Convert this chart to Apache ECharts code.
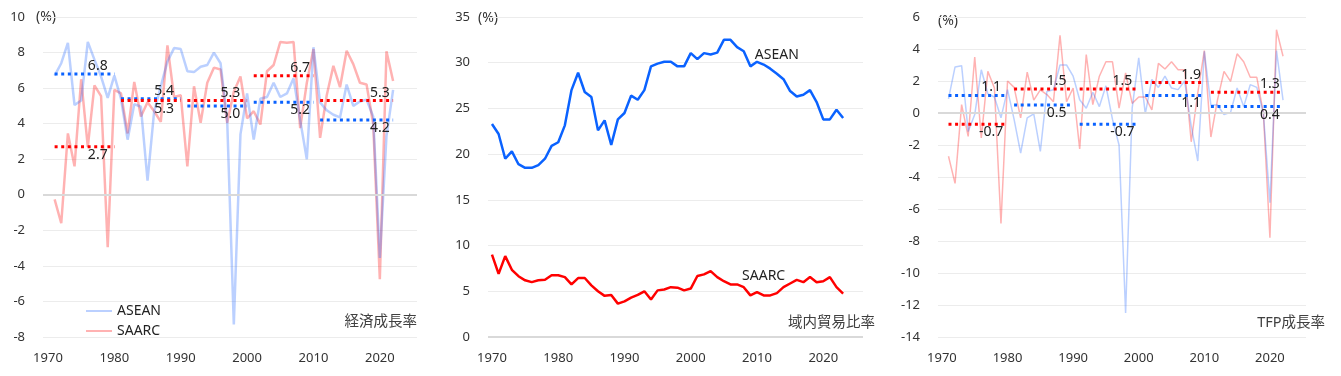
<!DOCTYPE html>
<html>
<head>
<meta charset="utf-8">
<script src="https://cdn.jsdelivr.net/npm/echarts@6/dist/echarts.min.js"></script>
<style>
  html, body { margin: 0; padding: 0; background: #fff; }
  #chart { width: 1341px; height: 376px; }
</style>
</head>
<body>
<div id="chart"></div>
<script>
(function() {
  /** Data */
  var growthStart = 1971;   // 1971-2022
  var tradeStart = 1970;    // 1970-2023

  var growthAsean = [6.7, 7.4, 8.55, 5.05, 5.3, 8.6, 7.6, 6.65, 5.45, 6.7,
    5.4, 3.1, 5.1, 4.95, 0.8, 4.7, 6.1, 7.5, 8.25, 8.2,
    6.95, 6.9, 7.2, 7.3, 8.0, 7.4, 4.2, -7.3, 3.4, 5.7,
    3.1, 5.4, 5.5, 6.3, 5.5, 5.7, 6.55, 4.2, 2.0, 8.3,
    5.2, 4.75, 4.5, 4.35, 6.2, 5.0, 5.25, 5.35, 4.4, -3.55, 3.3, 5.9];
  var growthSaarc = [-0.26, -1.6, 3.45, 1.6, 6.5, 2.7, 6.15, 5.55, -2.95, 5.9,
    5.7, 3.45, 6.35, 4.4, 5.2, 4.7, 4.1, 8.4, 5.5, 5.6,
    1.6, 6.1, 4.05, 6.3, 7.15, 7.05, 4.05, 5.8, 6.65, 4.3,
    4.7, 3.95, 6.95, 7.3, 8.6, 8.55, 8.6, 3.75, 6.3, 8.2,
    3.2, 5.6, 7.25, 6.05, 8.1, 7.35, 6.3, 6.2, 4.0, -4.75, 8.07, 6.4];

  var tradeAsean = [23.3, 22.2, 19.5, 20.3, 18.9, 18.5, 18.5, 18.8, 19.5, 20.9,
    21.3, 23.15, 27.0, 28.9, 26.8, 26.25, 22.6, 23.7, 21.0, 23.8,
    24.5, 26.4, 25.95, 27.0, 29.6, 29.9, 30.1, 30.1, 29.6, 29.6,
    31.05, 30.4, 31.05, 30.9, 31.1, 32.5, 32.5, 31.7, 31.25, 29.6,
    30.1, 29.8, 29.35, 28.8, 28.2, 26.9, 26.3, 26.5, 27.0, 25.7,
    23.8, 23.8, 24.85, 23.95];
  var tradeSaarc = [9.0, 6.9, 8.85, 7.35, 6.65, 6.2, 6.0, 6.2, 6.27, 6.75,
    6.75, 6.55, 5.75, 6.45, 6.45, 5.65, 5.0, 4.5, 4.6, 3.65,
    3.9, 4.3, 4.6, 5.0, 4.1, 5.1, 5.2, 5.45, 5.4, 5.1,
    5.3, 6.67, 6.85, 7.2, 6.55, 6.1, 5.75, 5.75, 5.45, 4.55,
    4.9, 4.55, 4.55, 4.8, 5.45, 5.85, 6.25, 6.0, 6.55, 6.0,
    6.1, 6.55, 5.45, 4.75];

  var tfpAsean = [0.88, 2.88, 2.96, -1.15, -0.1, 2.7, 1.2, 1.0, -0.3, 1.46,
    -0.4, -2.5, -0.3, -0.05, -2.4, 1.35, 1.45, 3.0, 3.0, 2.3,
    0.83, 0.3, 1.3, 0.4, 1.7, -0.4, -2.0, -12.5, 0.3, 3.44,
    -0.04, 2.1, 1.6, 2.3, 1.56, 1.46, 2.0, -0.8, -3.0, 3.85,
    0.5, 0.5, -0.1, 0.04, 1.56, 0.4, 1.77, 1.6, 0.0, -5.6, 3.9, 0.8];
  var tfpSaarc = [-2.7, -4.4, 0.52, -1.46, 3.5, -1.56, 2.6, 1.56, -6.9, 2.0,
    1.6, -0.3, 2.55, 0.8, 1.45, 1.15, 0.7, 4.85, 0.7, 1.56,
    -2.25, 3.65, 0.52, 2.3, 3.2, 3.2, 0.3, 2.5, 0.6, 1.0,
    1.0, 0.2, 3.1, 2.75, 3.2, 2.7, 2.7, -1.8, 1.25, 3.9,
    -1.5, 0.8, 2.6, 1.98, 3.7, 3.2, 2.23, 2.23, 0.0, -7.8, 5.2, 3.55];

  // period averages
  var periodStart = [1971, 1981, 1991, 2001, 2011];
  var periodEnd = [1980, 1990, 2000, 2010, 2022];
  var growthAvgAsean = [6.8, 5.4, 5.0, 5.2, 4.2];
  var growthAvgSaarc = [2.7, 5.3, 5.3, 6.7, 5.3];
  var tfpAvgAsean = [1.1, 0.5, -0.7, 1.1, 0.4];
  var tfpAvgSaarc = [-0.7, 1.5, 1.5, 1.9, 1.3];

  // where the average labels sit along each period
  var avgLabelYear = [1977.5, 1987.5, 1997.5, 2008, 2020];

  var FONT = "'Noto Sans', 'Noto Sans CJK JP', sans-serif";
  var BLUE = '#0a62ff';
  var RED = '#ff0000';
  var LIGHT_BLUE = 'rgba(30,100,255,0.3)';
  var LIGHT_RED = 'rgba(255,0,0,0.3)';

  function pairs(start, values) {
    return values.map(function(v, i) { return [start + i, v]; });
  }

  function xAxis(idx, min, max) {
    return {
      type: 'value', gridIndex: idx, min: min, max: max,
      axisLine: { show: false }, axisTick: { show: false }, splitLine: { show: false },
      axisLabel: {
        fontSize: 13, color: '#333', margin: 15, fontFamily: FONT,
        formatter: function(v) { return Math.abs(v % 10) < 1e-6 ? String(v) : ''; }
      }
    };
  }

  function yAxis(idx, min, max, interval) {
    return {
      type: 'value', gridIndex: idx, min: min, max: max, interval: interval,
      axisLine: { show: false }, axisTick: { show: false },
      axisLabel: { fontSize: 13, color: '#333', margin: 18, fontFamily: FONT },
      splitLine: { lineStyle: { color: '#ececec', width: 1 } }
    };
  }

  var zeroLine = {
    silent: true, symbol: 'none', label: { show: false },
    lineStyle: { color: '#d9d9d9', width: 2, type: 'solid' },
    data: [{ yAxis: 0 }]
  };

  function rawLine(name, idx, start, values, color, width, mark) {
    var s = {
      name: name, type: 'line', xAxisIndex: idx, yAxisIndex: idx,
      data: pairs(start, values), symbol: 'none',
      lineStyle: { color: color, width: width }, itemStyle: { color: color },
      emphasis: { disabled: true }, animation: false
    };
    if (mark) s.markLine = zeroLine;
    return s;
  }

  // dotted average segments, label on the middle point
  function avgSeries(idx, avgs, others, color) {
    return avgs.map(function(v, i) {
      var pos = v >= others[i] ? 'top' : 'bottom';
      return {
        type: 'line', xAxisIndex: idx, yAxisIndex: idx,
        symbol: 'circle', symbolSize: 0, showSymbol: true,
        lineStyle: { color: color, width: 3, type: [3, 3.6], cap: 'butt' },
        itemStyle: { color: color },
        emphasis: { disabled: true }, animation: false, z: 5,
        data: [
          [periodStart[i], v],
          { value: [avgLabelYear[i], v],
            label: { show: true, position: pos, distance: 1, formatter: v.toFixed(1),
                     fontSize: 14, color: '#222', fontFamily: FONT } },
          [periodEnd[i], v]
        ]
      };
    });
  }

  function tradeLine(name, values, color, labelYear) {
    return {
      name: name, type: 'line', xAxisIndex: 1, yAxisIndex: 1,
      symbol: 'circle', symbolSize: 0, showSymbol: true,
      lineStyle: { color: color, width: 2.5 }, itemStyle: { color: color },
      emphasis: { disabled: true }, animation: false,
      data: pairs(tradeStart, values).map(function(p) {
        if (p[0] !== labelYear) return p;
        return { value: p, label: { show: true, position: 'top', distance: 12,
                 formatter: name.split(' ')[0], fontSize: 14, color: '#222', fontFamily: FONT } };
      })
    };
  }

  var series = [
    rawLine('SAARC', 0, growthStart, growthSaarc, LIGHT_RED, 2.5, true),
    rawLine('ASEAN', 0, growthStart, growthAsean, LIGHT_BLUE, 2.5, false),
    tradeLine('ASEAN 域内', tradeAsean, BLUE, 2013),
    tradeLine('SAARC 域内', tradeSaarc, RED, 2011),
    rawLine('SAARC TFP', 2, growthStart, tfpSaarc, LIGHT_RED, 1.5, true),
    rawLine('ASEAN TFP', 2, growthStart, tfpAsean, LIGHT_BLUE, 1.5, false)
  ];
  series[2].markLine = zeroLine;
  series = series
    .concat(avgSeries(0, growthAvgAsean, growthAvgSaarc, BLUE))
    .concat(avgSeries(0, growthAvgSaarc, growthAvgAsean, RED))
    .concat(avgSeries(2, tfpAvgAsean, tfpAvgSaarc, BLUE))
    .concat(avgSeries(2, tfpAvgSaarc, tfpAvgAsean, RED));

  function text(opt) {
    return {
      type: 'text', left: opt.left, right: opt.right, top: opt.top, silent: true,
      style: {
        text: opt.text, fill: opt.color || '#333',
        font: (opt.size || 14) + 'px ' + FONT
      }
    };
  }

  var chart = echarts.init(document.getElementById('chart'));
  chart.setOption({
    backgroundColor: '#fff',
    textStyle: { fontFamily: FONT },
    animation: false,
    grid: [
      { left: 43, top: 17, width: 374, height: 320 },
      { left: 488, top: 17, width: 375, height: 320 },
      { left: 938, top: 17, width: 368, height: 320 }
    ],
    xAxis: [
      xAxis(0, 1969.25, 2025.6),
      xAxis(1, 1969.4, 2026),
      xAxis(2, 1969.4, 2025.5)
    ],
    yAxis: [
      yAxis(0, -8, 10, 2),
      yAxis(1, 0, 35, 5),
      yAxis(2, -14, 6, 2)
    ],
    legend: {
      data: ['ASEAN', 'SAARC'], orient: 'vertical', left: 80, top: 299,
      itemWidth: 26, itemHeight: 14, itemGap: 6,
      itemStyle: { opacity: 0 },
      textStyle: { fontSize: 14, color: '#222', fontFamily: FONT }
    },
    graphic: [
      text({ text: '(%)', left: 36, top: 10 }),
      text({ text: '(%)', left: 478, top: 11 }),
      text({ text: '(%)', left: 938, top: 14 }),
      text({ text: '経済成長率', right: 924, top: 315, size: 14.5, color: '#404040' }),
      text({ text: '域内貿易比率', right: 466, top: 316, size: 14.5, color: '#404040' }),
      text({ text: 'TFP成長率', right: 16, top: 316, size: 14.5, color: '#404040' })
    ],
    series: series
  });
})();
</script>
</body>
</html>
